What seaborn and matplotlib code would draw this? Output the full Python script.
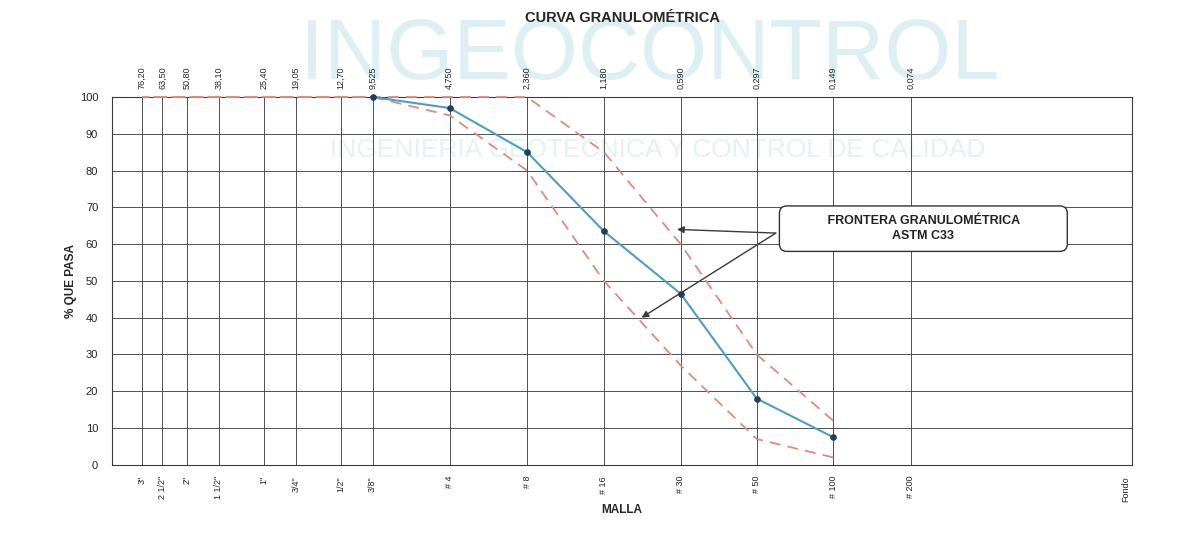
import numpy as np
import pandas as pd
import seaborn as sns
from matplotlib import pyplot as plt

# tamices (mm) y nombres
abertura_mm = [76.20, 63.50, 50.80, 38.10, 25.40, 19.05, 12.70, 9.525,
               4.750, 2.360, 1.180, 0.590, 0.297, 0.149, 0.074]
abertura_txt = ['76,20', '63,50', '50,80', '38,10', '25,40', '19,05', '12,70', '9,525',
                '4,750', '2,360', '1,180', '0,590', '0,297', '0,149', '0,074']
malla_txt = ['3"', '2 1/2"', '2"', '1 1/2"', '1"', '3/4"', '1/2"', '3/8"',
             '# 4', '# 8', '# 16', '# 30', '# 50', '# 100', '# 200']
fondo_mm = 0.0106

# curva del ensayo
ensayo_mm = [9.525, 4.750, 2.360, 1.180, 0.590, 0.297, 0.149]
ensayo_pasa = [100, 97, 85, 63.5, 46.5, 18, 7.5]

# frontera ASTM C33
limite_mm = [76.20, 63.50, 50.80, 38.10, 25.40, 19.05, 12.70, 9.525,
             4.750, 2.360, 1.180, 0.590, 0.297, 0.149]
limite_sup = [100, 100, 100, 100, 100, 100, 100, 100, 100, 100, 85, 60, 30, 12]
limite_inf = [100, 100, 100, 100, 100, 100, 100, 100, 95, 80, 50, 27, 7, 2]

sns.set_theme(style='white')
plt.rcParams['font.family'] = ['Liberation Sans', 'DejaVu Sans']

fig, ax = plt.subplots(figsize=(11.92, 5.33), dpi=100)
fig.subplots_adjust(left=0.094, right=0.950, top=0.818, bottom=0.128)

# marca de agua (detras de todo)
fig.text(0.545, 0.893, 'INGEOCONTROL', ha='center', va='center', fontsize=62,
         color='#dcf0f3', zorder=-5)
fig.text(0.552, 0.718, 'INGENIERIA GEOTECNICA Y CONTROL DE CALIDAD', ha='center',
         va='center', fontsize=19, color='#e4f2f4', zorder=-5)
ax.set_facecolor('none')

df_lim = pd.DataFrame({'mm': limite_mm, 'sup': limite_sup, 'inf': limite_inf})
sns.lineplot(data=df_lim, x='mm', y='sup', ax=ax, color='#e08a78', lw=1.3,
             linestyle=(0, (6, 4)), clip_on=False, zorder=3)
sns.lineplot(data=df_lim, x='mm', y='inf', ax=ax, color='#e08a78', lw=1.3,
             linestyle=(0, (6, 4)), clip_on=False, zorder=3)

df = pd.DataFrame({'mm': ensayo_mm, 'pasa': ensayo_pasa})
sns.lineplot(data=df, x='mm', y='pasa', ax=ax, color='#4a9fc8', lw=1.5,
             marker='o', markersize=4, markerfacecolor='#1f3f5f',
             markeredgecolor='#1f3f5f', clip_on=False, zorder=4)

ax.set_xscale('log')
ax.set_xlim(100, 0.01)
ax.set_ylim(0, 100)
ax.minorticks_off()

ax.set_xticks(abertura_mm)
ax.set_xticklabels(malla_txt, rotation=90, fontsize=6.5)
ax.set_xticks([fondo_mm], labels=['Fondo'], minor=True)
ax.tick_params(axis='x', which='minor', labelsize=6.5, labelrotation=90, length=0, pad=8)
ax.tick_params(axis='x', which='major', length=0, pad=8)
ax.set_yticks(np.arange(0, 101, 10))
ax.tick_params(axis='y', length=0, labelsize=8, pad=10)

ax.grid(which='major', axis='both', color='#444444', lw=0.65)
ax.set_axisbelow(True)
for s in ax.spines.values():
    s.set_color('#3a3a3a')
    s.set_linewidth(0.8)

ax.set_xlabel('MALLA', fontsize=8.5, fontweight='bold', labelpad=2)
ax.set_ylabel('% QUE PASA', fontsize=8.5, fontweight='bold', labelpad=2)

ax2 = ax.twiny()
ax2.set_xscale('log')
ax2.set_xlim(ax.get_xlim())
ax2.minorticks_off()
ax2.set_xticks(abertura_mm)
ax2.set_xticklabels(abertura_txt, rotation=90, fontsize=6.5)
ax2.tick_params(axis='x', length=0, pad=6)
ax2.grid(False)
for s in ax2.spines.values():
    s.set_visible(False)

ax.set_title('CURVA GRANULOMÉTRICA', fontsize=10.5, fontweight='bold', pad=54)

# cuadro de frontera
ax.text(0.066, 64.2, '           FRONTERA GRANULOMÉTRICA           \nASTM C33', ha='center',
        va='center', fontsize=9, fontweight='bold', color='#222222', linespacing=1.3,
        zorder=6,
        bbox=dict(boxstyle='round,pad=0.75,rounding_size=0.6', fc='white',
                  ec='#333333', lw=1.0))
for tip in [(0.61, 64), (0.84, 40)]:
    ax.annotate('', xy=tip, xytext=(0.25, 63), zorder=5,
                arrowprops=dict(arrowstyle='-|>', color='#3a3a3a', lw=1.0,
                                mutation_scale=10, shrinkA=0, shrinkB=0))

plt.savefig('out.png', dpi=100)
